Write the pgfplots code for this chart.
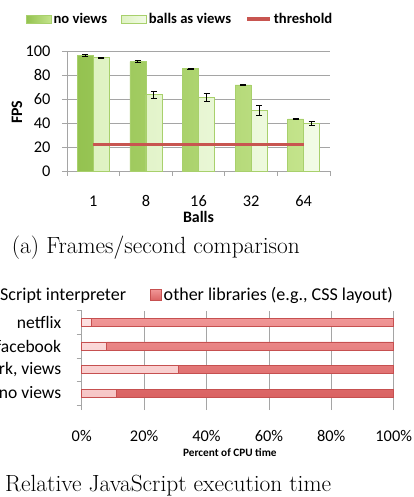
\documentclass[border=0pt]{standalone}
\usepackage{pgfplots}
\usepackage{pgfplotstable}
\pgfplotsset{compat=1.18}
\usepackage{fontspec}
\newfontfamily\carlito{Carlito}
\definecolor{gdark}{RGB}{148,194,80}
\definecolor{glight}{RGB}{196,228,140}
\definecolor{gedge}{RGB}{168,208,108}
\definecolor{pdark}{RGB}{222,242,194}
\definecolor{plight}{RGB}{242,251,230}
\definecolor{thr}{RGB}{200,85,80}
\definecolor{rdark}{RGB}{218,98,98}
\definecolor{rlight}{RGB}{240,150,150}
\definecolor{redge}{RGB}{198,80,80}
\definecolor{pinktop}{RGB}{253,225,225}
\definecolor{pinkbot}{RGB}{246,198,198}
\definecolor{gridc}{RGB}{165,165,165}

\pgfplotsset{
  boxlegend/.style={legend image code/.code={\draw[##1] (0bp,-4bp) rectangle (25bp,4bp);}},
  sqlegend/.style={legend image code/.code={\draw[##1] (0bp,-5.5bp) rectangle (11bp,5.5bp);}},
  linelegend/.style={legend image code/.code={\draw[##1] (0bp,0bp) -- (23bp,0bp);}},
}

\pgfplotstableread{
x nv nverr bv bverr thr
0 96.4 0.6 94.4 0.4 22
1 91.1 0.8 63.6 2.8 22
2 85.2 0.4 61.3 3.0 22
3 71.7 0.4 50.4 4.2 22
4 43.4 0.7 39.5 1.7 22
}\fpsdata

\pgfplotstableread{
y js other
0 11 89
1 31 69
2 8 92
3 3 97
}\cpudata

\begin{document}
\begin{tikzpicture}
\path[use as bounding box] (0bp,0bp) rectangle (414bp,497bp);
\clip (0bp,0bp) rectangle (414bp,497bp);

% ---------- (a) FPS ----------
\begin{axis}[
  at={(67bp,326bp)}, anchor=south west, scale only axis,
  width=263bp, height=120bp,
  /pgf/number format/assume math mode=true,
  ybar=0pt, bar width=16bp,
  xmin=-0.5, xmax=4.5, ymin=0, ymax=100,
  ytick={0,20,...,100},
  axis x line*=bottom, axis y line*=left,
  axis line style={-, draw=gridc, line width=0.7pt},
  ymajorgrids, grid style={gridc, line width=0.7pt},
  tick align=outside, major tick length=5bp,
  tick style={gridc, line width=0.7pt},
  xtick={-0.5,0.5,...,4.5}, xticklabels={},
  extra x ticks={0,1,2,3,4},
  extra x tick labels={1,8,16,32,64},
  extra x tick style={major tick length=0pt, xticklabel style={yshift=-21bp}},
  yticklabel style={xshift=-8bp},
  ticklabel style={font=\carlito\fontsize{16.4}{18}\selectfont, text=black},
  ylabel={FPS}, xlabel={Balls},
  ylabel style={at={(axis description cs:-0.19,0.49)}, anchor=center, font=\carlito\bfseries\fontsize{16}{18}\selectfont},
  xlabel style={at={(axis description cs:0.5,-0.385)}, anchor=center, inner sep=1pt, font=\carlito\bfseries\fontsize{16}{18}\selectfont},
  legend style={at={(axis description cs:0.43,1.265)}, anchor=center, draw=none, fill=none,
    legend columns=3, font=\carlito\bfseries\fontsize{14.7}{16}\selectfont,
    /tikz/every even column/.append style={column sep=12bp}},
  clip=false,
]
\addplot[draw=gedge, line width=0.7pt, left color=gdark, right color=glight,
  boxlegend,
  error bars/.cd, y dir=both, y explicit, error mark=-,
  error bar style={draw=black, line width=0.9pt},
  error mark options={draw=black, line width=0.9pt, mark size=3bp, rotate=90}]
  table[x=x, y=nv, y error=nverr] {\fpsdata};
\addlegendentry{no views}
\addplot[draw=gedge, line width=0.7pt, left color=pdark, right color=plight,
  boxlegend,
  error bars/.cd, y dir=both, y explicit, error mark=-,
  error bar style={draw=black, line width=0.9pt},
  error mark options={draw=black, line width=0.9pt, mark size=3bp, rotate=90}]
  table[x=x, y=bv, y error=bverr] {\fpsdata};
\addlegendentry{balls as views}
\addplot[draw=thr, line width=3.8bp, no marks, sharp plot, linelegend]
  table[x=x, y=thr] {\fpsdata};
\addlegendentry{threshold}
\end{axis}

% ---------- (b) CPU ----------
\begin{axis}[
  at={(81.7bp,92bp)}, anchor=south west, scale only axis,
  width=312bp, height=94.3bp,
  /pgf/number format/assume math mode=true,
  xbar stacked, bar width=8.3bp,
  xmin=0, xmax=100, ymin=-0.5, ymax=3.5,
  xtick={0,20,...,100},
  xticklabel={\pgfmathprintnumber{\tick}\%},
  axis x line*=bottom, axis y line*=left,
  x axis line style={draw=none},
  y axis line style={-, draw=gridc, line width=0.7pt},
  xmajorgrids, grid style={gridc, line width=0.7pt},
  tick align=outside, major tick length=5bp,
  tick style={gridc, line width=0.7pt},
  ytick={-0.5,0.5,...,3.5}, yticklabels={},
  extra y ticks={0,1,2,3},
  extra y tick labels={{benchmark, no views},{benchmark, views},facebook,netflix},
  extra y tick style={major tick length=0pt, yticklabel style={xshift=-17bp, font=\carlito\fontsize{17.6}{19}\selectfont}},
  xticklabel style={yshift=-17bp},
  ticklabel style={font=\carlito\fontsize{16.4}{18}\selectfont, text=black},
  xlabel={Percent of CPU time},
  xlabel style={at={(axis description cs:0.475,-0.509)}, anchor=center, font=\carlito\bfseries\fontsize{11.3}{13}\selectfont},
  legend style={at={(axis description cs:1.014,1.166)}, anchor=east, draw=none, fill=none,
    legend columns=2, font=\carlito\fontsize{18.1}{20}\selectfont,
    /tikz/every even column/.append style={column sep=22bp}},
  clip=false,
]
\addplot[draw=redge, line width=0.7pt, top color=pinktop, bottom color=pinkbot, sqlegend]
  table[x=js, y=y] {\cpudata};
\addlegendentry{JavaScript interpreter}
\addplot[draw=redge, line width=0.7pt, top color=rlight, bottom color=rdark, sqlegend]
  table[x=other, y=y] {\cpudata};
\addlegendentry{other libraries (e.g., CSS layout)}
\end{axis}

\node[anchor=base west, inner sep=0pt, font=\fontsize{23.5}{28}\selectfont] at (11.7bp,243.7bp) {(a) Frames/second comparison};
\node[anchor=base west, inner sep=0pt, font=\fontsize{23.5}{28}\selectfont] at (5bp,6bp) {\llap{(b) }Relative JavaScript execution time};
\end{tikzpicture}
\end{document}
